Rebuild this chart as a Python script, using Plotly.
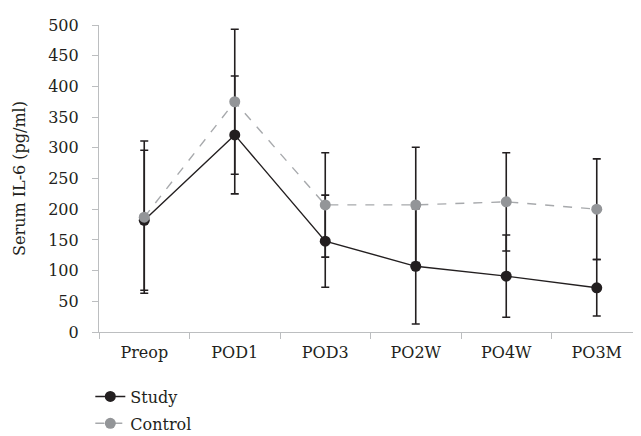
import plotly.graph_objects as go

categories = ["Preop", "POD1", "POD3", "PO2W", "PO4W", "PO3M"]
study_mean = [182, 321, 148, 107, 91, 72]
study_sd = [114, 96, 75, 94, 67, 46]
control_mean = [187, 375, 207, 207, 212, 200]
control_sd = [124, 118, 85, 94, 80, 82]
y_ticks = [0, 50, 100, 150, 200, 250, 300, 350, 400, 450, 500]

FONT = "DejaVu Serif"
DARK = "#231f20"
GRAY = "#939598"
AXIS = "#bcbec0"

fig = go.Figure()
fig.add_trace(go.Scatter(
    x=categories, y=study_mean, name="Study", mode="lines+markers",
    legendgroup="study",
    line=dict(color=DARK, width=1.4),
    marker=dict(color=DARK, size=11),
    error_y=dict(type="data", array=study_sd, color=DARK, thickness=1.6, width=4),
))
fig.add_trace(go.Scatter(
    x=categories, y=control_mean, name="Control", mode="lines+markers",
    legendgroup="control",
    line=dict(color="#a7a9ac", width=1.4, dash="dash"),
    marker=dict(color=GRAY, size=11),
    error_y=dict(type="data", array=control_sd, color=DARK, thickness=1.6, width=4),
))

fig.update_layout(
    width=641, height=436,
    margin=dict(l=91, r=7, t=17, b=112, autoexpand=False),
    paper_bgcolor="white", plot_bgcolor="white",
    font=dict(family=FONT, size=16, color=DARK),
    showlegend=True,
    legend=dict(x=-0.016, y=-0.155, xanchor="left", yanchor="top",
                bgcolor="rgba(0,0,0,0)", traceorder="grouped",
                font=dict(family=FONT, size=16, color=DARK), tracegroupgap=3),
    xaxis=dict(
        type="category", range=[-0.5, 5.5], showgrid=False, zeroline=False,
        showline=True, linecolor=AXIS, linewidth=1.2,
        ticks="outside", tickson="boundaries", ticklen=6, tickcolor=AXIS,
        tickfont=dict(family=FONT, size=16, color=DARK), ticklabelstandoff=6,
    ),
    yaxis=dict(
        range=[0, 500], tickvals=y_ticks, showgrid=False, zeroline=False,
        showline=True, linecolor=AXIS, linewidth=1.2,
        ticks="outside", ticklen=6, tickcolor=AXIS,
        tickfont=dict(family=FONT, size=16, color=DARK), ticklabelstandoff=10,
        title=dict(text="Serum IL-6 (pg/ml)", font=dict(family=FONT, size=16, color=DARK), standoff=18),
    ),
)

fig.write_html("out.html")
